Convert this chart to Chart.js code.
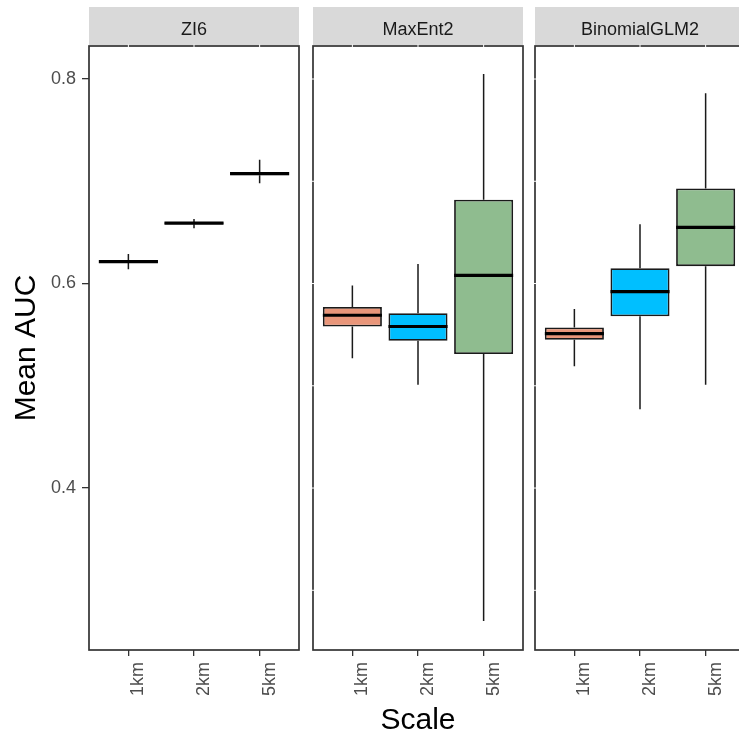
<!DOCTYPE html>
<html><head><meta charset="utf-8">
<script src="https://cdn.jsdelivr.net/npm/chart.js@4/dist/chart.umd.min.js"></script>
<style>
html,body{margin:0;padding:0;background:#fff;overflow:hidden;width:739px;height:740px;position:relative}
canvas{position:absolute;top:0}
</style></head><body>
<canvas id="c1" width="305" height="740" style="left:0px"></canvas>
<canvas id="c2" width="225" height="740" style="left:305px"></canvas>
<canvas id="c3" width="220" height="740" style="left:530px"></canvas>
<script>
// ---- data ----
const categories = ['1km', '2km', '5km'];
const panels = ['ZI6', 'MaxEnt2', 'BinomialGLM2'];
const yTicks = [0.4, 0.6, 0.8];
const yGridBreaks = [0.3, 0.4, 0.5, 0.6, 0.7, 0.8];
const yMin = 0.2416, yMax = 0.8323;
const fills = ['#E9967A', '#00BFFF', '#8FBC8F'];

// ZI6
const zi6Min = [0.614, 0.654, 0.698];
const zi6Q1  = [0.620, 0.658, 0.706];
const zi6Med = [0.6215, 0.659, 0.7075];
const zi6Q3  = [0.623, 0.660, 0.709];
const zi6Max = [0.629, 0.663, 0.721];
// MaxEnt2
const maxentMin = [0.527, 0.501, 0.270];
const maxentQ1  = [0.558, 0.544, 0.531];
const maxentMed = [0.569, 0.558, 0.608];
const maxentQ3  = [0.577, 0.571, 0.682];
const maxentMax = [0.598, 0.619, 0.805];
// BinomialGLM2
const glmMin = [0.519, 0.477, 0.501];
const glmQ1  = [0.545, 0.568, 0.617];
const glmMed = [0.551, 0.592, 0.655];
const glmQ3  = [0.557, 0.615, 0.693];
const glmMax = [0.575, 0.658, 0.786];

// ---- rendering ----
const FONT = '"Liberation Sans", Arial, Helvetica, sans-serif';
Chart.defaults.font.family = FONT;

const stripPlugin = {
  id: 'strip',
  beforeDraw(chart) {
    const { ctx, chartArea: a } = chart;
    ctx.save();
    ctx.fillStyle = '#D9D9D9';
    ctx.fillRect(a.left, 7, a.right - a.left, 38);
    ctx.restore();
  }
};

const boxPlugin = {
  id: 'boxExtras',
  beforeDatasetsDraw(chart, args, o) {
    const { ctx } = chart;
    const ys = chart.scales.y;
    const meta = chart.getDatasetMeta(0);
    ctx.save();
    ctx.strokeStyle = '#1a1a1a';
    ctx.lineWidth = 1.5;
    meta.data.forEach((el, i) => {
      const x = el.x;
      ctx.beginPath();
      ctx.moveTo(x, ys.getPixelForValue(o.q3[i]));
      ctx.lineTo(x, ys.getPixelForValue(o.max[i]));
      ctx.moveTo(x, ys.getPixelForValue(o.q1[i]));
      ctx.lineTo(x, ys.getPixelForValue(o.min[i]));
      ctx.stroke();
    });
    ctx.restore();
  },
  afterDatasetsDraw(chart, args, o) {
    const { ctx } = chart;
    const ys = chart.scales.y;
    const meta = chart.getDatasetMeta(0);
    ctx.save();
    ctx.strokeStyle = '#000';
    ctx.lineWidth = 3.2;
    meta.data.forEach((el, i) => {
      const y = ys.getPixelForValue(o.med[i]);
      ctx.beginPath();
      ctx.moveTo(el.x - el.width / 2, y);
      ctx.lineTo(el.x + el.width / 2, y);
      ctx.stroke();
    });
    ctx.restore();
  }
};

const borderPlugin = {
  id: 'panelBorder',
  afterDraw(chart, args, o) {
    const { ctx, chartArea: a } = chart;
    const xs = chart.scales.x, ys = chart.scales.y;
    ctx.save();
    ctx.strokeStyle = '#333333';
    ctx.lineWidth = 1.7;
    ctx.strokeRect(a.left, a.top, a.right - a.left, a.bottom - a.top);
    // faint white grid-line gaps across the top (and left) border, as in the original
    ctx.strokeStyle = '#ffffff';
    ctx.lineWidth = 1;
    ctx.beginPath();
    categories.forEach((c, i) => {
      const x = xs.getPixelForValue(i);
      ctx.moveTo(x, a.top - 1.5); ctx.lineTo(x, a.top + 1.5);
    });
    if (o.leftGaps) {
      yGridBreaks.forEach(v => {
        const y = ys.getPixelForValue(v);
        ctx.moveTo(a.left - 1.5, y); ctx.lineTo(a.left + 1.5, y);
      });
    }
    ctx.stroke();
    ctx.restore();
  }
};

function makeChart(id, idx, s, cfg) {
  return new Chart(document.getElementById(id), {
    type: 'bar',
    data: {
      datasets: [{
        data: s.q1.map((q, i) => ({ x: i, y: [q, s.q3[i]] })),
        backgroundColor: fills,
        borderColor: '#1a1a1a',
        borderWidth: 1.8,
        borderSkipped: false,
        barPercentage: 0.9,
        categoryPercentage: 1
      }]
    },
    options: {
      responsive: false,
      animation: false,
      devicePixelRatio: 1,
      layout: { padding: { left: cfg.padL, right: cfg.padR, top: 7, bottom: 0 } },
      plugins: {
        legend: { display: false },
        tooltip: { enabled: false },
        title: {
          display: true, text: panels[idx], fullSize: false,
          color: '#1A1A1A', font: { family: FONT, size: 18, weight: 'normal' },
          padding: { top: 12, bottom: 5.4 }
        },
        boxExtras: s,
        panelBorder: { leftGaps: !cfg.showY }
      },
      scales: {
        x: {
          type: 'linear', min: -0.6, max: 2.6, offset: false,
          afterBuildTicks: sc => { sc.ticks = categories.map((c, i) => ({ value: i })); },
          afterFit: sc => { sc.height = 90; },
          grid: { display: true, offset: false, drawOnChartArea: false, drawTicks: true, tickLength: 6, color: '#333333', lineWidth: 1.3 },
          border: { display: false },
          ticks: {
            autoSkip: false, minRotation: 90, maxRotation: 90, padding: 6, labelOffset: 10,
            color: '#4D4D4D', font: { family: FONT, size: 18 },
            callback: v => categories[v]
          },
          title: {
            display: cfg.xTitle, text: 'Scale', color: '#000',
            font: { family: FONT, size: 30 }, padding: { top: 0, bottom: 1 }
          }
        },
        y: {
          type: 'linear', min: yMin, max: yMax, display: cfg.showY,
          afterBuildTicks: sc => { sc.ticks = yTicks.map(v => ({ value: v })); },
          afterFit: sc => { sc.width = cfg.showY ? 89 : 0; },
          grid: { display: true, drawOnChartArea: false, drawTicks: true, tickLength: 7, color: '#333333', lineWidth: 1.3 },
          border: { display: false },
          ticks: {
            padding: 6, color: '#4D4D4D', font: { family: FONT, size: 18 },
            callback: v => v.toFixed(1)
          },
          title: {
            display: true, text: 'Mean AUC', color: '#000',
            font: { family: FONT, size: 30 }, padding: { top: 9, bottom: 0 }
          }
        }
      }
    },
    plugins: [stripPlugin, boxPlugin, borderPlugin]
  });
}

makeChart('c1', 0, { min: zi6Min, q1: zi6Q1, med: zi6Med, q3: zi6Q3, max: zi6Max },
  { padL: 0, padR: 6, showY: true, xTitle: false });
makeChart('c2', 1, { min: maxentMin, q1: maxentQ1, med: maxentMed, q3: maxentQ3, max: maxentMax },
  { padL: 8, padR: 7, showY: false, xTitle: true });
makeChart('c3', 2, { min: glmMin, q1: glmQ1, med: glmMed, q3: glmQ3, max: glmMax },
  { padL: 5, padR: 5, showY: false, xTitle: false });
</script>
</body></html>
